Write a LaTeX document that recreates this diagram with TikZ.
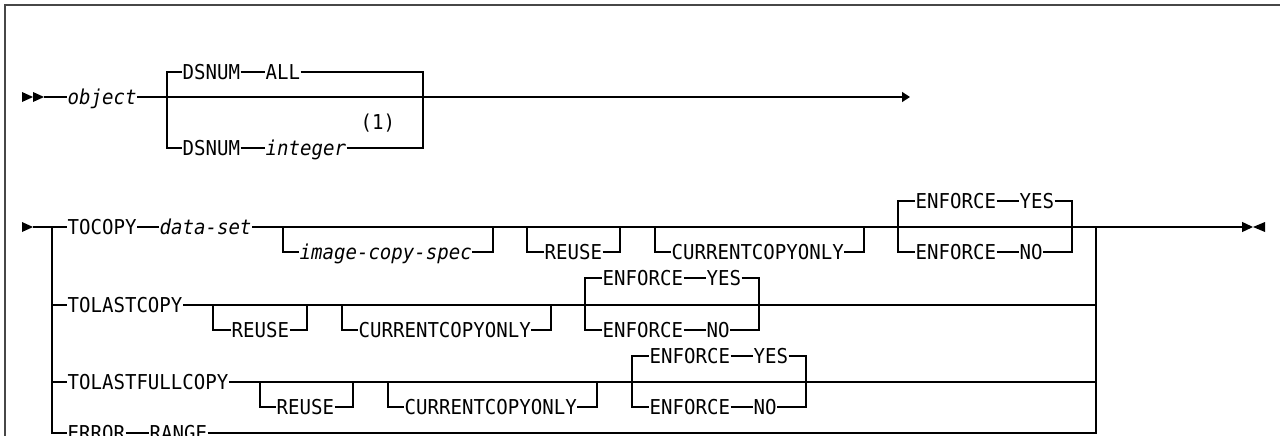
\documentclass[tikz,border=0pt]{standalone}
\usepackage{fontspec}
\newfontfamily\dmono[FakeStretch=0.93]{DejaVu Sans Mono}
\usetikzlibrary{arrows.meta}
\begin{document}
\begin{tikzpicture}[x=1pt,y=-1pt,
  line width=1.3pt,
  kw/.style={inner sep=0pt, text height=14.9pt, text depth=0pt, anchor=west,
    font=\dmono\fontsize{20.5}{24}\selectfont},
  var/.style={kw, font=\dmono\itshape\fontsize{20.5}{24}\selectfont},
  frame/.style={line width=2pt, draw=black!72},
  endtip/.style={-{Triangle[length=8pt,width=10pt]}},
  stoptip/.style={-{Triangle[length=11pt,width=10pt]}},
]
\useasboundingbox (0,0) rectangle (1280,436);
\clip (0,0) rectangle (1280,436);

% frame
\draw[frame] (4.5,440) -- (4.5,5) -- (1282,5);

% ---------------- row 1 ----------------
\fill (22,92) -- (33,97) -- (22,102) -- cycle;
\fill (33,92) -- (44,97) -- (33,102) -- cycle;
\coordinate (a1) at (44,97);
\node[var] (obj) at (67,97) {object};
\draw (a1) -- (obj.west);
\coordinate (e1) at (910,97);
\draw[endtip] (obj.east) -- (e1);

\coordinate (d1) at (167,97);
\coordinate (d2) at (423,97);
\node[kw] (dsa) at (182,72) {DSNUM};
\node[kw] (all) at (265,72) {ALL};
\node[kw] (dsb) at (182,148) {DSNUM};
\node[var] (int) at (265,148) {integer};
\node[kw] (n1) at (360,122) {(1)};
\draw (d1) |- (dsa.west);
\draw (dsa.east) -- (all.west);
\draw (all.east) -| (d2);
\draw (d1) |- (dsb.west);
\draw (dsb.east) -- (int.west);
\draw (int.east) -| (d2);

% ---------------- row 2 ----------------
\fill (22,222) -- (33,227) -- (22,232) -- cycle;
\coordinate (a2) at (33,227);
\coordinate (L) at (52,227);
\coordinate (R) at (1096,227);
\node[kw] (toc) at (67,227) {TOCOPY};
\node[var] (ds) at (159,227) {data-set};
\draw (a2) -- (toc.west);
\draw (toc.east) -- (ds.west);
\coordinate (e2) at (1253,227);
\draw[stoptip] (ds.east) -- (e2);
\fill (1265,222) -- (1253,227) -- (1265,232) -- cycle;

% image-copy-spec
\coordinate (i1) at (283,227);
\coordinate (i2) at (493,227);
\node[var] (ics) at (299,252) {image-copy-spec};
\draw (i1) |- (ics.west);
\draw (ics.east) -| (i2);
% REUSE
\coordinate (r21) at (527,227);
\coordinate (r22) at (620,227);
\node[kw] (reu2) at (544,252) {REUSE};
\draw (r21) |- (reu2.west);
\draw (reu2.east) -| (r22);
% CURRENTCOPYONLY
\coordinate (c21) at (655,227);
\coordinate (c22) at (864,227);
\node[kw] (cco2) at (671,252) {CURRENTCOPYONLY};
\draw (c21) |- (cco2.west);
\draw (cco2.east) -| (c22);
% ENFORCE
\coordinate (f21) at (898,227);
\coordinate (f22) at (1072,227);
\node[kw] (efy2) at (915,201) {ENFORCE};
\node[kw] (yes2) at (1019,201) {YES};
\node[kw] (efn2) at (915,252) {ENFORCE};
\node[kw] (no2) at (1019,252) {NO};
\draw (f21) |- (efy2.west);
\draw (efy2.east) -- (yes2.west);
\draw (yes2.east) -| (f22);
\draw (f21) |- (efn2.west);
\draw (efn2.east) -- (no2.west);
\draw (no2.east) -| (f22);

% ---------------- row 3 ----------------
\node[kw] (tlc) at (67,305) {TOLASTCOPY};
\draw (L) |- (tlc.west);
\draw (tlc.east) -| (R);
\coordinate (r31) at (213,305);
\coordinate (r32) at (307,305);
\node[kw] (reu3) at (231,330) {REUSE};
\draw (r31) |- (reu3.west);
\draw (reu3.east) -| (r32);
\coordinate (c31) at (342,305);
\coordinate (c32) at (551,305);
\node[kw] (cco3) at (358,330) {CURRENTCOPYONLY};
\draw (c31) |- (cco3.west);
\draw (cco3.east) -| (c32);
\coordinate (f31) at (585,305);
\coordinate (f32) at (759,305);
\node[kw] (efy3) at (602,278) {ENFORCE};
\node[kw] (yes3) at (706,278) {YES};
\node[kw] (efn3) at (602,330) {ENFORCE};
\node[kw] (no3) at (706,330) {NO};
\draw (f31) |- (efy3.west);
\draw (efy3.east) -- (yes3.west);
\draw (yes3.east) -| (f32);
\draw (f31) |- (efn3.west);
\draw (efn3.east) -- (no3.west);
\draw (no3.east) -| (f32);

% ---------------- row 4 ----------------
\node[kw] (tlf) at (67,382) {TOLASTFULLCOPY};
\draw (L) |- (tlf.west);
\draw (tlf.east) -| (R);
\coordinate (r41) at (260,382);
\coordinate (r42) at (353,382);
\node[kw] (reu4) at (276,407) {REUSE};
\draw (r41) |- (reu4.west);
\draw (reu4.east) -| (r42);
\coordinate (c41) at (388,382);
\coordinate (c42) at (597,382);
\node[kw] (cco4) at (404,407) {CURRENTCOPYONLY};
\draw (c41) |- (cco4.west);
\draw (cco4.east) -| (c42);
\coordinate (f41) at (632,382);
\coordinate (f42) at (806,382);
\node[kw] (efy4) at (649,356) {ENFORCE};
\node[kw] (yes4) at (753,356) {YES};
\node[kw] (efn4) at (649,407) {ENFORCE};
\node[kw] (no4) at (753,407) {NO};
\draw (f41) |- (efy4.west);
\draw (efy4.east) -- (yes4.west);
\draw (yes4.east) -| (f42);
\draw (f41) |- (efn4.west);
\draw (efn4.east) -- (no4.west);
\draw (no4.east) -| (f42);

% ---------------- row 5 ----------------
\node[kw] (err) at (67,433) {ERROR};
\node[kw] (rng) at (149,433) {RANGE};
\draw (L) |- (err.west);
\draw (err.east) -- (rng.west);
\draw (rng.east) -| (R);
\end{tikzpicture}
\end{document}
